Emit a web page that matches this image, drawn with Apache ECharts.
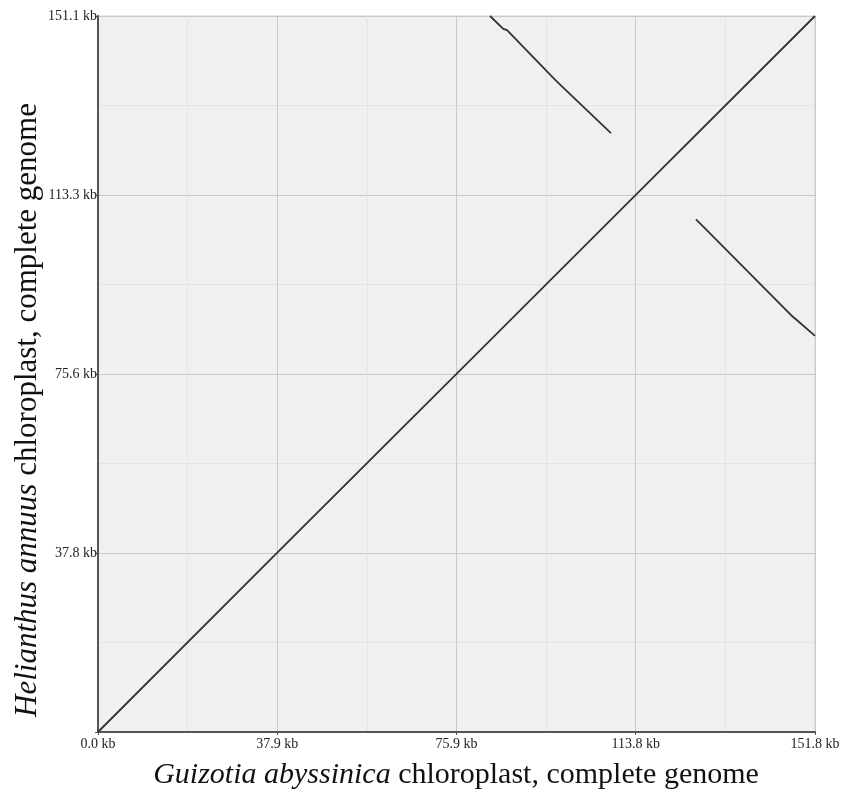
<!DOCTYPE html>
<html>
<head>
<meta charset="utf-8">
<script src="https://cdn.jsdelivr.net/npm/echarts@6/dist/echarts.min.js"></script>
<style>html,body{margin:0;padding:0;background:#fff;}#c{width:855px;height:795px;}</style>
</head>
<body>
<div id="c"></div>
<script>
// Tick labels
const xTickLabels = ['0.0 kb', '37.9 kb', '75.9 kb', '113.8 kb', '151.8 kb'];
const yTickLabels = ['', '37.8 kb', '75.6 kb', '113.3 kb', '151.1 kb'];
const xMax = 151.8;
const yMax = 151.1;
// Dot-plot segments: [x kb, y kb]
const diagonal = [[0, 0], [37.9, 37.8], [75.9, 75.6], [113.8, 113.3], [151.8, 151.1]];
const irTop = [[83.0, 151.1], [85.8, 148.4], [86.6, 148.1], [97.0, 137.4], [108.6, 126.4]];
const irRight = [[126.6, 108.2], [128.2, 106.6], [146.8, 87.9], [148.0, 86.9], [151.8, 83.6]];

const chart = echarts.init(document.getElementById('c'), null, {renderer: 'canvas'});
const labelFont = {fontFamily: 'Liberation Serif', fontSize: 14, color: '#222'};
const lineStyle = {color: '#333', width: 1.8};
chart.setOption({
  animation: false,
  backgroundColor: '#fff',
  grid: {left: 98, right: 40, top: 16, bottom: 63, show: true, backgroundColor: '#f0f0f0', borderColor: '#d4d4d4', borderWidth: 1},
  xAxis: {
    type: 'value', min: 0, max: xMax, interval: xMax / 4,
    axisLine: {show: true, lineStyle: {color: '#555', width: 2}},
    axisTick: {show: true, length: 3, lineStyle: {color: '#555'}},
    axisLabel: Object.assign({margin: 5, formatter: (v) => xTickLabels[Math.round(v / (xMax / 4))]}, labelFont),
    splitLine: {show: true, lineStyle: {color: '#c9c9c9', width: 1}},
    minorTick: {show: false, splitNumber: 2},
    minorSplitLine: {show: true, lineStyle: {color: '#e4e4e4', width: 1}}
  },
  yAxis: {
    type: 'value', min: 0, max: yMax, interval: yMax / 4,
    axisLine: {show: true, lineStyle: {color: '#555', width: 2}},
    axisTick: {show: true, length: 3, lineStyle: {color: '#555'}},
    axisLabel: Object.assign({margin: 1, formatter: (v) => yTickLabels[Math.round(v / (yMax / 4))]}, labelFont),
    splitLine: {show: true, lineStyle: {color: '#c9c9c9', width: 1}},
    minorTick: {show: false, splitNumber: 2},
    minorSplitLine: {show: true, lineStyle: {color: '#e4e4e4', width: 1}}
  },
  series: [
    {type: 'line', data: diagonal, showSymbol: false, lineStyle: lineStyle},
    {type: 'line', data: irTop, showSymbol: false, lineStyle: lineStyle},
    {type: 'line', data: irRight, showSymbol: false, lineStyle: lineStyle}
  ],
  graphic: [
    {type: 'text', x: 456, y: 775, style: {
      text: '{i|Guizotia abyssinica} chloroplast, complete genome',
      align: 'center', verticalAlign: 'middle',
      font: '30px "Liberation Serif"', fill: '#111',
      rich: {i: {fontStyle: 'italic', fontSize: 30, fontFamily: 'Liberation Serif', fill: '#111'}}
    }},
    {type: 'text', x: 28, y: 410, rotation: Math.PI / 2, style: {
      text: '{i|Helianthus annuus} chloroplast, complete genome',
      align: 'center', verticalAlign: 'middle',
      font: '31px "Liberation Serif"', fill: '#111',
      rich: {i: {fontStyle: 'italic', fontSize: 31, fontFamily: 'Liberation Serif', fill: '#111'}}
    }}
  ]
});
</script>
</body>
</html>
